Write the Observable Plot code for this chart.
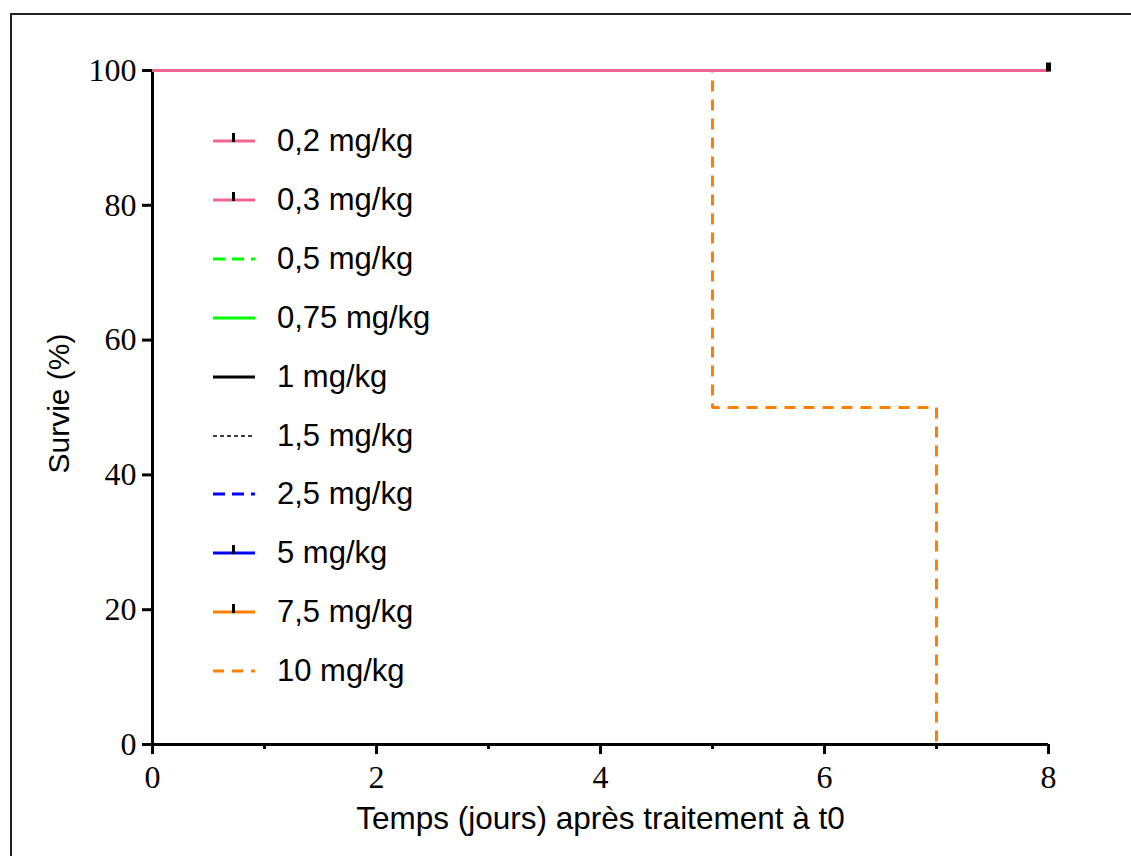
<!DOCTYPE html>
<html>
<head>
<meta charset="utf-8">
<script src="https://cdn.jsdelivr.net/npm/d3@7"></script>
<script src="https://cdn.jsdelivr.net/npm/@observablehq/plot@0.6"></script>
<style>
  html, body { margin: 0; padding: 0; background: #fff; }
  #wrap { position: relative; width: 1131px; height: 856px; overflow: hidden; background: #fff; }
  #frame { position: absolute; left: 10px; top: 13px; width: 1200px; height: 900px;
           border-left: 2px solid #222; border-top: 2px solid #222; box-sizing: border-box; }
  #chart { position: absolute; left: 0; top: 0; }
  #legend { position: absolute; left: 213px; top: 0; font-family: "Liberation Sans", Arial, sans-serif;
            font-size: 31px; color: #000; }
  .row { position: absolute; left: 0; height: 36px; display: flex; align-items: center; white-space: nowrap; }
  .row svg { display: block; margin-right: 22px; }
</style>
</head>
<body>
<div id="wrap">
  <div id="frame"></div>
  <div id="chart"></div>
  <div id="legend"></div>
</div>
<script>
// ---- Data ----
const seriesLabels = ["0,2 mg/kg","0,3 mg/kg","0,5 mg/kg","0,75 mg/kg","1 mg/kg","1,5 mg/kg","2,5 mg/kg","5 mg/kg","7,5 mg/kg","10 mg/kg"];
const seriesColors = ["#F2658F","#F2658F","#00FF00","#00FF00","#000000","#000000","#0000FF","#0000FF","#FF8000","#FF8000"];
const seriesDash   = [null,null,"12,7",null,null,"4,3","12,7",null,null,"11,8"];
const seriesWidth  = [3,3,3,3,3,1.3,3,3,3,3];
const seriesCensorMark = [true,true,false,false,false,false,false,true,true,false];

// Kaplan-Meier steps (time in days, survival %)
const times = [
  [0,8],[0,8],[0,8],[0,8],[0,8],[0,8],[0,8],[0,8],[0,8],
  [0,5,7]
];
const survival = [
  [100,100],[100,100],[100,100],[100,100],[100,100],[100,100],[100,100],[100,100],[100,100],
  [100,50,0]
];
const censored = [{t: 8, s: 100}];

const xMajorTicks = [0,2,4,6,8];
const xMinorTicks = [1,3,5,7];
const yTicks = [0,20,40,60,80,100];
const xTitle = "Temps (jours) après traitement à t0";
const yTitle = "Survie (%)";

// ---- Build ----
const rows = [];
seriesLabels.forEach((lab, i) => {
  times[i].forEach((t, j) => rows.push({series: lab, idx: i, t, s: survival[i][j]}));
});
// draw order: last series first, pink (first series) last so it is on top
const drawOrder = seriesLabels.map((_, i) => i).reverse();

const censorSymbol = {
  draw(ctx, size) { ctx.moveTo(0, 1); ctx.lineTo(0, -8); }
};

const serif = "'Liberation Serif', 'Times New Roman', serif";
const sans = "'Liberation Sans', Arial, sans-serif";

const marks = [
  Plot.ruleY([0], {strokeWidth: 3, stroke: "#000"}),
  Plot.ruleX([0], {strokeWidth: 3, stroke: "#000"}),
  Plot.axisY({ticks: yTicks, tickSize: 10, tickPadding: 6, strokeWidth: 3, fontSize: 32,
              fontFamily: serif, label: null, stroke: "#000", fill: "#000"}),
  Plot.axisX({ticks: xMajorTicks, tickSize: 10, tickPadding: 11, strokeWidth: 3, fontSize: 32,
              fontFamily: serif, label: null, stroke: "#000", fill: "#000"}),
  Plot.axisX({ticks: xMinorTicks, tickSize: 5, text: null, strokeWidth: 3, label: null, stroke: "#000"}),
];
for (const i of drawOrder) {
  marks.push(Plot.line(rows.filter(d => d.idx === i), {
    x: "t", y: "s", curve: "step-after",
    stroke: seriesColors[i], strokeWidth: seriesWidth[i],
    strokeDasharray: seriesDash[i] || undefined,
    strokeLinecap: "butt", strokeLinejoin: "miter"
  }));
}
marks.push(Plot.dot(censored, {x: "t", y: "s", symbol: censorSymbol, stroke: "#000", strokeWidth: 5, r: 4}));
marks.push(Plot.text([xTitle], {frameAnchor: "bottom", lineAnchor: "middle", textAnchor: "middle", dy: 74,
                                fontSize: 31.5, fontFamily: sans, fill: "#000"}));
marks.push(Plot.text([yTitle], {frameAnchor: "left", lineAnchor: "middle", textAnchor: "middle", dx: -93, dy: -4,
                                rotate: -90, fontSize: 30, fontFamily: sans, fill: "#000"}));

const chart = Plot.plot({
  width: 1131, height: 856,
  marginLeft: 152, marginRight: 83, marginTop: 70, marginBottom: 112,
  x: {domain: [0, 8]},
  y: {domain: [0, 100]},
  style: {background: "transparent", color: "#000", overflow: "visible"},
  marks
});
document.getElementById("chart").appendChild(chart);

// ---- Legend ----
const legend = document.getElementById("legend");
seriesLabels.forEach((lab, i) => {
  const row = document.createElement("div");
  row.className = "row";
  row.style.top = (141 + i * 58.9 - 18) + "px";
  const ns = "http://www.w3.org/2000/svg";
  const svg = document.createElementNS(ns, "svg");
  svg.setAttribute("width", 42); svg.setAttribute("height", 20);
  const line = document.createElementNS(ns, "line");
  line.setAttribute("x1", 0); line.setAttribute("x2", 42);
  line.setAttribute("y1", 10); line.setAttribute("y2", 10);
  line.setAttribute("stroke", seriesColors[i]);
  line.setAttribute("stroke-width", seriesWidth[i]);
  if (seriesDash[i]) line.setAttribute("stroke-dasharray", seriesDash[i]);
  svg.appendChild(line);
  if (seriesCensorMark[i]) {
    const tk = document.createElementNS(ns, "line");
    tk.setAttribute("x1", 20.5); tk.setAttribute("x2", 20.5);
    tk.setAttribute("y1", 2); tk.setAttribute("y2", 11);
    tk.setAttribute("stroke", "#000"); tk.setAttribute("stroke-width", 3);
    svg.appendChild(tk);
  }
  row.appendChild(svg);
  const span = document.createElement("span");
  span.textContent = lab;
  row.appendChild(span);
  legend.appendChild(row);
});
</script>
</body>
</html>
